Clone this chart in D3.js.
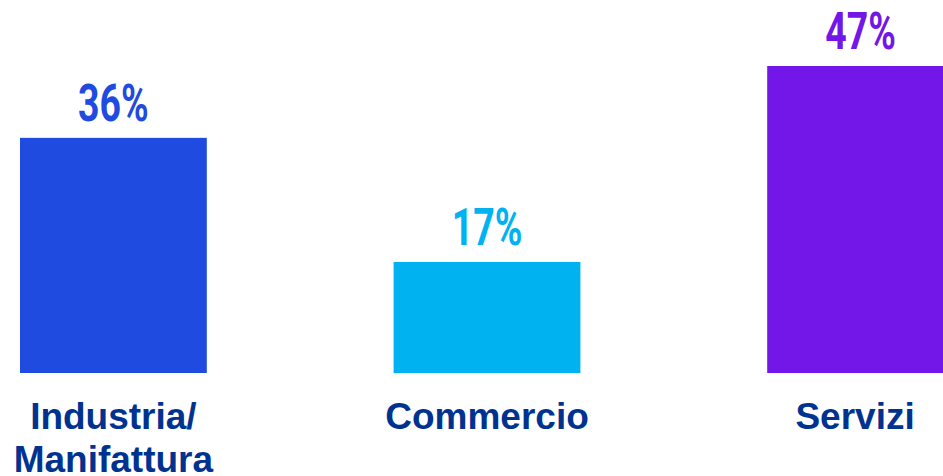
<!DOCTYPE html>
<html>
<head>
<meta charset="utf-8">
<script src="https://cdn.jsdelivr.net/npm/d3@7"></script>
<style>
  html, body { margin: 0; padding: 0; background: #ffffff; }
  svg { display: block; }
</style>
</head>
<body>
<div id="chart"></div>
<script>
// Sector shares (%)
const categories = ["Industria/\nManifattura", "Commercio", "Servizi"];
const values = [36, 17, 47];
const barColors = ["#1f4be0", "#00b3f0", "#7316e8"];
const valueLabels = ["36%", "17%", "47%"];

const width = 943, height = 476;
const baseline = 373;

const svg = d3.select("#chart").append("svg")
  .attr("width", width)
  .attr("height", height);

const x = d3.scaleBand()
  .domain(categories)
  .range([20, 954])
  .paddingInner(0.5)
  .paddingOuter(0);

const y = d3.scaleLinear()
  .domain([0, 47])
  .range([baseline, 66]);

const rows = categories.map((c, i) => ({ cat: c, value: values[i], color: barColors[i], label: valueLabels[i] }));

// Bars
svg.selectAll("rect.bar")
  .data(rows)
  .join("rect")
  .attr("class", "bar")
  .attr("x", d => x(d.cat))
  .attr("y", d => y(d.value))
  .attr("width", x.bandwidth())
  .attr("height", d => y(0) - y(d.value))
  .attr("fill", d => d.color);

// Value labels above bars, condensed display style
svg.selectAll("text.value")
  .data(rows)
  .join("text")
  .attr("class", "value")
  .attr("transform", d => `translate(${x(d.cat) + x.bandwidth() / 2},${y(d.value) - 17}) scale(0.72,1)`)
  .attr("text-anchor", "middle")
  .attr("font-family", "Roboto, 'Liberation Sans', sans-serif")
  .attr("font-weight", 700)
  .attr("font-size", 52)
  .attr("fill", d => d.color)
  .text(d => d.label);

// Category labels, centred on the visible part of each band
const visibleCenter = c => {
  const a = Math.max(0, x(c));
  const b = Math.min(width, x(c) + x.bandwidth());
  return (a + b) / 2;
};

const catText = svg.selectAll("text.cat")
  .data(rows)
  .join("text")
  .attr("class", "cat")
  .attr("text-anchor", "middle")
  .attr("font-family", "'Liberation Sans', Arial, sans-serif")
  .attr("font-weight", 700)
  .attr("font-size", 37)
  .attr("fill", "#00338f");

catText.each(function(d) {
  const lines = d.cat.split("\n");
  const t = d3.select(this);
  lines.forEach((ln, i) => {
    t.append("tspan")
      .attr("x", visibleCenter(d.cat))
      .attr("y", 429 + i * 43)
      .text(ln);
  });
});
</script>
</body>
</html>
